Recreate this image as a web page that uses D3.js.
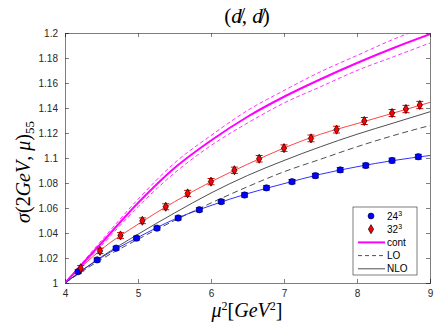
<!DOCTYPE html>
<html>
<head>
<meta charset="utf-8">
<script src="https://cdn.jsdelivr.net/npm/d3@7"></script>
<style>
body{margin:0;background:#fff}
</style>
</head>
<body>
<svg id="graph" width="436" height="327"></svg>
<script>
// grid of mu^2 used for the smooth curves
var muGrid=[4,4.5,5,5.5,6,6.5,7,7.5,8,8.5,9];
var contMid=[1,1.032,1.064,1.092,1.114,1.133,1.149,1.163,1.176,1.188,1.199];
var contUp=[1,1.034,1.067,1.096,1.118,1.138,1.154,1.169,1.182,1.195,1.206];
var contLow=[1,1.030,1.061,1.088,1.110,1.128,1.144,1.157,1.170,1.181,1.192];
var loVals=[1,1.019,1.035,1.050,1.064,1.077,1.089,1.099,1.109,1.118,1.126];
var nloVals=[1,1.021,1.039,1.056,1.072,1.086,1.098,1.109,1.119,1.128,1.137];
var fit24=[1,1.0205,1.0365,1.051,1.062,1.0715,1.0795,1.087,1.093,1.098,1.102];
var fit32=[1,1.027,1.047,1.065,1.081,1.095,1.108,1.119,1.1275,1.136,1.1445];

// lattice points
var mu24=[4.18,4.44,4.70,4.98,5.26,5.55,5.84,6.14,6.46,6.76,7.11,7.43,7.77,8.12,8.48,8.84];
var sig24=[1.0091,1.0185,1.0279,1.0359,1.0439,1.0520,1.0586,1.0651,1.0704,1.0761,1.0811,1.0859,1.0905,1.0940,1.0980,1.1010];
var err24=[0.0015,0.0015,0.0015,0.0015,0.0015,0.0016,0.0016,0.0016,0.0017,0.0017,0.0017,0.0018,0.0018,0.0018,0.0019,0.0019];
var mu32=[4.215,4.48,4.76,5.06,5.38,5.68,6.00,6.32,6.66,7.00,7.37,7.72,8.10,8.48,8.67,8.86];
var sig32=[1.0118,1.0257,1.0380,1.0498,1.0610,1.0717,1.0811,1.0902,1.0994,1.1079,1.1157,1.1227,1.1296,1.1360,1.1392,1.1424];
var err32=[0.0022,0.0022,0.0023,0.0023,0.0024,0.0024,0.0025,0.0025,0.0026,0.0026,0.0027,0.0027,0.0028,0.0028,0.0029,0.0029];

var xTicks=[4,5,6,7,8,9];
var yTicks=[1,1.02,1.04,1.06,1.08,1.1,1.12,1.14,1.16,1.18,1.2];

var legendNames=["24","32","cont","LO","NLO"];

var box={left:65,right:430,top:33,bottom:283};
var sans="'Liberation Sans', Arial, sans-serif";
var serif="'Liberation Serif', 'DejaVu Serif', serif";
var svg=d3.select("#graph");

var xScale=d3.scaleLinear().domain([4,9]).range([box.left,box.right]);
var yScale=d3.scaleLinear().domain([1,1.2]).range([box.bottom,box.top]);

svg.append("defs").append("clipPath").attr("id","clip")
  .append("rect").attr("x",box.left).attr("y",box.top)
  .attr("width",box.right-box.left).attr("height",box.bottom-box.top);

// axes, MATLAB style ticks pointing inward on all sides
var axisColor="#262626";
var drawAxis=function(g){
  g.attr("font-family",sans);
  g.selectAll("path").attr("stroke",axisColor).attr("stroke-width",0.6);
  g.selectAll("line").attr("stroke",axisColor).attr("stroke-width",0.6);
  g.selectAll("text").attr("fill",axisColor).style("font-size","10px");
};
var fmt=function(d){return String(+d.toFixed(2));};

svg.append("g").attr("transform","translate(0,"+box.bottom+")")
  .call(d3.axisBottom(xScale).tickValues(xTicks).tickSize(-4).tickPadding(7).tickFormat(fmt))
  .call(drawAxis);
svg.append("g").attr("transform","translate(0,"+box.top+")")
  .call(d3.axisTop(xScale).tickValues(xTicks).tickSize(-4).tickFormat(""))
  .call(drawAxis);
svg.append("g").attr("transform","translate("+box.left+",0)")
  .call(d3.axisLeft(yScale).tickValues(yTicks).tickSize(-4).tickPadding(7).tickFormat(fmt))
  .call(drawAxis);
svg.append("g").attr("transform","translate("+box.right+",0)")
  .call(d3.axisRight(yScale).tickValues(yTicks).tickSize(-4).tickFormat(""))
  .call(drawAxis);

var plot=svg.append("g").attr("clip-path","url(#clip)");

var curve=function(vals){
  return d3.line()
    .x(function(d,i){return xScale(muGrid[i]);})
    .y(function(d){return yScale(d);})
    .curve(d3.curveMonotoneX)(vals);
};

plot.append("path").attr("d",curve(contUp)).attr("fill","none")
  .attr("stroke","#ff00ff").attr("stroke-width",0.8).attr("stroke-dasharray","4,2.5");
plot.append("path").attr("d",curve(contLow)).attr("fill","none")
  .attr("stroke","#ff00ff").attr("stroke-width",0.8).attr("stroke-dasharray","4,2.5");
plot.append("path").attr("d",curve(contMid)).attr("fill","none")
  .attr("stroke","#ff00ff").attr("stroke-width",2);
plot.append("path").attr("d",curve(loVals)).attr("fill","none")
  .attr("stroke","#222").attr("stroke-width",0.8).attr("stroke-dasharray","6,3.5");
plot.append("path").attr("d",curve(nloVals)).attr("fill","none")
  .attr("stroke","#222").attr("stroke-width",0.8);
plot.append("path").attr("d",curve(fit24)).attr("fill","none")
  .attr("stroke","#1a1aff").attr("stroke-width",0.9);
plot.append("path").attr("d",curve(fit32)).attr("fill","none")
  .attr("stroke","#ff3030").attr("stroke-width",0.9);

// error bars
var drawErr=function(mus,sigs,errs,color,cap){
  var pts=mus.map(function(m,i){return {x:m,y:sigs[i],e:errs[i]};});
  var g=plot.append("g");
  g.selectAll("line.v").data(pts).enter().append("line")
    .attr("x1",function(d){return xScale(d.x);}).attr("x2",function(d){return xScale(d.x);})
    .attr("y1",function(d){return yScale(d.y-d.e);}).attr("y2",function(d){return yScale(d.y+d.e);})
    .attr("stroke",color).attr("stroke-width",1);
  [-1,1].forEach(function(s){
    g.selectAll("line.c"+s).data(pts).enter().append("line")
      .attr("x1",function(d){return xScale(d.x)-cap;}).attr("x2",function(d){return xScale(d.x)+cap;})
      .attr("y1",function(d){return yScale(d.y+s*d.e);}).attr("y2",function(d){return yScale(d.y+s*d.e);})
      .attr("stroke",color).attr("stroke-width",1);
  });
  return pts;
};

var pts24=drawErr(mu24,sig24,err24,"#0000ee",3.5);
var pts32=drawErr(mu32,sig32,err32,"#ee0000",3.5);

plot.append("g").selectAll("circle").data(pts24).enter().append("circle")
  .attr("cx",function(d){return xScale(d.x);}).attr("cy",function(d){return yScale(d.y);})
  .attr("r",3.2).attr("fill","#0000ff").attr("stroke","#000033").attr("stroke-width",0.6);

var diamond=d3.symbol().type(d3.symbolDiamond).size(24);
plot.append("g").selectAll("path").data(pts32).enter().append("path")
  .attr("d",diamond)
  .attr("transform",function(d){return "translate("+xScale(d.x)+","+yScale(d.y)+")";})
  .attr("fill","#ff0000").attr("stroke","#000").attr("stroke-width",0.7);

// legend
var leg=svg.append("g").attr("font-family",sans);
var legTop=207, legStep=13.2;
leg.append("rect").attr("x",353).attr("y",legTop).attr("width",64).attr("height",68)
  .attr("fill","#fff").attr("stroke",axisColor).attr("stroke-width",0.6);
var rowY=function(i){return legTop+9+i*legStep;};
leg.append("circle").attr("cx",371).attr("cy",rowY(0)).attr("r",3)
  .attr("fill","#0000ff").attr("stroke","#000033").attr("stroke-width",0.6);
leg.append("path").attr("d",diamond).attr("transform","translate(371,"+rowY(1)+")")
  .attr("fill","#ff0000").attr("stroke","#000").attr("stroke-width",0.7);
leg.append("line").attr("x1",358).attr("x2",385).attr("y1",rowY(2)).attr("y2",rowY(2))
  .attr("stroke","#ff00ff").attr("stroke-width",2);
leg.append("line").attr("x1",358).attr("x2",385).attr("y1",rowY(3)).attr("y2",rowY(3))
  .attr("stroke","#222").attr("stroke-width",0.8).attr("stroke-dasharray","4,3");
leg.append("line").attr("x1",358).attr("x2",385).attr("y1",rowY(4)).attr("y2",rowY(4))
  .attr("stroke","#222").attr("stroke-width",0.8);
legendNames.forEach(function(n,i){
  var t=leg.append("text").attr("x",387).attr("y",rowY(i)+3.5)
    .style("font-size","10px").attr("fill","#000").text(n);
  if(i<2){
    t.append("tspan").attr("dy",-4).style("font-size","7px").text("3");
  }
});

// title
var title=svg.append("text").attr("x",247).attr("y",23)
  .attr("text-anchor","middle").style("font-family",serif).style("font-size","21px").attr("fill","#000");
title.append("tspan").text("(");
title.append("tspan").style("font-style","italic").text("d\u0338");
title.append("tspan").text(", ");
title.append("tspan").style("font-style","italic").text("d\u0338");
title.append("tspan").text(")");

// x label
var xl=svg.append("text").attr("x",247).attr("y",317)
  .attr("text-anchor","middle").style("font-family",serif).style("font-size","20px").attr("fill","#000");
xl.append("tspan").style("font-style","italic").text("\u03bc");
xl.append("tspan").attr("dy",-7).style("font-size","12px").text("2");
xl.append("tspan").attr("dy",7).text("[");
xl.append("tspan").style("font-style","italic").text("GeV");
xl.append("tspan").attr("dy",-7).style("font-size","12px").text("2");
xl.append("tspan").attr("dy",7).text("]");

// y label
var yl=svg.append("text").attr("transform","translate(30,172) rotate(-90)")
  .attr("text-anchor","middle").style("font-family",serif).style("font-size","20px").attr("fill","#000");
yl.append("tspan").style("font-style","italic").text("\u03c3");
yl.append("tspan").text("(2");
yl.append("tspan").style("font-style","italic").text("GeV");
yl.append("tspan").text(", ");
yl.append("tspan").style("font-style","italic").text("\u03bc");
yl.append("tspan").text(")");
yl.append("tspan").attr("dy",4).style("font-size","13px").text("55");
</script>
</body>
</html>
